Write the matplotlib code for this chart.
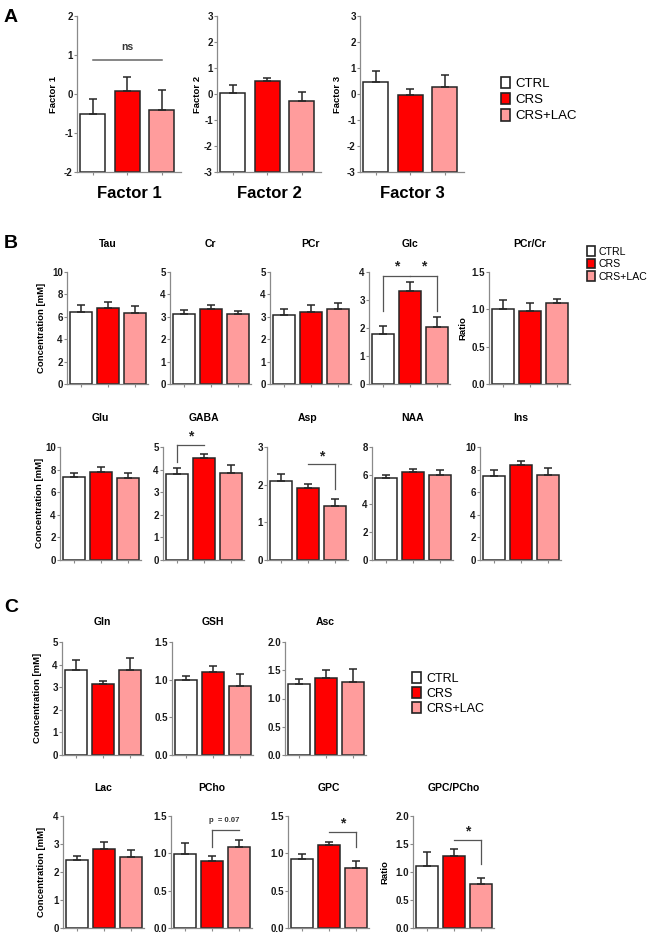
import numpy as np
import matplotlib.pyplot as plt
from matplotlib.patches import Patch

plt.rcParams['font.family'] = ['Liberation Sans', 'DejaVu Sans']

groups = ['CTRL', 'CRS', 'CRS+LAC']
colors = ['#ffffff', '#ff0000', '#ff9c9c']

# panel A - factor scores
factor_names = ['Factor 1', 'Factor 2', 'Factor 3']
factor_mean = [[-0.50, 0.08, -0.42], [0.05, 0.50, -0.27], [0.47, -0.03, 0.26]]
factor_err = [[0.37, 0.35, 0.53], [0.30, 0.13, 0.35], [0.40, 0.23, 0.49]]
factor_ylim = [(-2, 2), (-3, 3), (-3, 3)]

# panel B - metabolites
b_names = ['Tau', 'Cr', 'PCr', 'Glc', 'PCr/Cr', 'Glu', 'GABA', 'Asp', 'NAA', 'Ins']
b_mean = [[6.40, 6.80, 6.32], [3.13, 3.36, 3.13], [3.07, 3.22, 3.37],
          [1.80, 3.32, 2.05], [1.01, 0.98, 1.08], [7.35, 7.80, 7.30],
          [3.80, 4.50, 3.85], [2.09, 1.90, 1.44], [5.80, 6.20, 6.00],
          [7.47, 8.40, 7.56]]
b_err = [[0.62, 0.55, 0.62], [0.18, 0.17, 0.14], [0.29, 0.31, 0.25],
         [0.27, 0.33, 0.33], [0.11, 0.10, 0.06], [0.35, 0.45, 0.40],
         [0.26, 0.17, 0.35], [0.18, 0.13, 0.18], [0.25, 0.25, 0.35],
         [0.53, 0.32, 0.59]]
b_ymax = [10, 5, 5, 4, 1.5, 10, 5, 3, 8, 10]
b_ystep = [2, 1, 1, 1, 0.5, 2, 1, 1, 2, 2]

# panel C
c_names = ['Gln', 'GSH', 'Asc', 'Lac', 'PCho', 'GPC', 'GPC/PCho']
c_mean = [[3.78, 3.16, 3.78], [1.00, 1.10, 0.91], [1.26, 1.37, 1.29],
          [2.43, 2.81, 2.53], [0.99, 0.90, 1.08], [0.93, 1.11, 0.81],
          [1.11, 1.28, 0.79]]
c_err = [[0.44, 0.13, 0.52], [0.05, 0.08, 0.16], [0.09, 0.14, 0.23],
         [0.14, 0.25, 0.25], [0.15, 0.07, 0.10], [0.06, 0.04, 0.09],
         [0.24, 0.13, 0.11]]
c_ymax = [5, 1.5, 2, 4, 1.5, 1.5, 2]
c_ystep = [1, 0.5, 0.5, 1, 0.5, 0.5, 0.5]

W, H = 650, 933
fig = plt.figure(figsize=(6.5, 9.33), dpi=100)


def px_axes(l, t, r, b):
    return fig.add_axes([l / W, 1 - b / H, (r - l) / W, (b - t) / H])


def px_text(x, y, s, **kw):
    kw.setdefault('ha', 'center')
    kw.setdefault('va', 'center')
    fig.text(x / W, 1 - y / H, s, **kw)


def bar_panel(ax, mean, err, ymin, ymax, step, xlim, width, fmt):
    x = np.arange(3)
    mean = np.array(mean)
    ax.bar(x, mean - ymin, bottom=ymin, width=width, color=colors,
           edgecolor='#262626', linewidth=1.1, zorder=2)
    ax.errorbar(x, mean, yerr=[np.zeros(3), err], fmt='none', ecolor='#262626',
                elinewidth=1.1, capsize=3.2, capthick=1.1, zorder=3)
    ax.set_xlim(xlim)
    ax.set_ylim(ymin, ymax)
    ticks = np.arange(ymin, ymax + step / 2, step)
    ax.set_yticks(ticks)
    ax.set_yticklabels([fmt.format(t) for t in ticks])
    ax.set_xticks(x)
    ax.set_xticklabels([])
    for s in ['top', 'right']:
        ax.spines[s].set_visible(False)
    for s in ['left', 'bottom']:
        ax.spines[s].set_color('#8a8a8a')
        ax.spines[s].set_linewidth(0.9)
    ax.tick_params(axis='y', length=2, width=0.8, color='#8a8a8a', pad=1,
                   labelsize=7, labelcolor='#1a1a1a')
    ax.tick_params(axis='x', length=2, width=0.8, color='#8a8a8a')
    for lab in ax.get_yticklabels():
        lab.set_fontweight('bold')
    ax.patch.set_alpha(0)


def bracket(ax, x0, x1, y, leg0=None, leg1=None):
    kw = dict(color='#555555', lw=0.9, clip_on=False, zorder=4)
    ax.plot([x0, x1], [y, y], **kw)
    if leg0 is not None:
        ax.plot([x0, x0], [leg0, y], **kw)
    if leg1 is not None:
        ax.plot([x1, x1], [leg1, y], **kw)


def star(ax, x, y, s='*', size=10):
    ax.text(x, y, s, ha='center', va='center', fontsize=size,
            fontweight='bold', color='#222222', clip_on=False)


# ---------------- panel A
a_boxes = [(77, 16, 181, 172), (217, 16, 321, 172), (360, 16, 464, 172)]
a_ylab_x = [54, 198, 338]
a_axes = []
for i, box in enumerate(a_boxes):
    ax = px_axes(*box)
    lo, hi = factor_ylim[i]
    bar_panel(ax, factor_mean[i], factor_err[i], lo, hi, 1,
              (-0.45, 2.55), 0.72, '{:.0f}')
    a_axes.append(ax)
    px_text(a_ylab_x[i], 94, factor_names[i], rotation=90, fontsize=6.8,
            fontweight='bold')
    px_text((box[0] + box[2]) / 2, 193, factor_names[i], fontsize=12,
            fontweight='bold')

ax = a_axes[0]
ax.plot([0, 2], [0.87, 0.87], color='#666666', lw=1.1)
ax.text(1, 1.2, 'ns', ha='center', va='center', fontsize=7.5,
        fontweight='bold', color='#333333')

px_text(4, 18, 'A', ha='left', fontsize=14, fontweight='bold')
handles = [Patch(facecolor=c, edgecolor='#222222', linewidth=1.2) for c in colors]
fig.legend(handles, groups, loc='upper left',
           bbox_to_anchor=(494 / W, 1 - 70 / H), frameon=False, fontsize=9.5,
           handlelength=0.7, handleheight=1.0, handletextpad=0.4,
           labelspacing=0.2, borderpad=0)

# ---------------- panel B
b_boxes = [(67, 272, 148, 384), (170, 272, 251, 384), (270, 272, 351, 384),
           (369, 272, 450, 384), (489, 272, 570, 384),
           (60, 447, 141, 560), (163, 447, 244, 560), (267, 447, 348, 560),
           (372, 447, 453, 560), (480, 447, 561, 560)]
b_axes = []
for i, box in enumerate(b_boxes):
    ax = px_axes(*box)
    fmt = '{:.1f}' if b_ystep[i] < 1 else '{:.0f}'
    bar_panel(ax, b_mean[i], b_err[i], 0, b_ymax[i], b_ystep[i],
              (-0.53, 2.49), 0.82, fmt)
    b_axes.append(ax)
    ty = 244 if i < 5 else 418
    px_text((box[0] + box[2]) / 2, ty, b_names[i], fontsize=7.5,
            fontweight='bold')

px_text(42, 328, 'Concentration [mM]', rotation=90, fontsize=6.8, fontweight='bold')
px_text(40, 503, 'Concentration [mM]', rotation=90, fontsize=6.8, fontweight='bold')
px_text(463, 328, 'Ratio', rotation=90, fontsize=6.8, fontweight='bold')

# Glc
ax = b_axes[3]
bracket(ax, 0, 1, 3.85, leg0=2.6)
bracket(ax, 1, 2, 3.85, leg1=2.6)
star(ax, 0.5, 4.2)
star(ax, 1.5, 4.2)
# GABA
ax = b_axes[6]
bracket(ax, 0, 1, 5.07, leg0=4.33)
star(ax, 0.5, 5.45)
# Asp
ax = b_axes[7]
bracket(ax, 1, 2, 2.54, leg1=1.89)
star(ax, 1.5, 2.75)

px_text(4, 243, 'B', ha='left', fontsize=14, fontweight='bold')
fig.legend(handles, groups, loc='upper left',
           bbox_to_anchor=(582 / W, 1 - 241 / H), frameon=False, fontsize=7.6,
           handlelength=0.7, handleheight=1.0, handletextpad=0.35,
           labelspacing=0.2, borderpad=0)

# ---------------- panel C
c_boxes = [(62, 642, 143, 755), (172, 642, 253, 755), (285, 642, 366, 755),
           (63, 816, 144, 928), (171, 816, 252, 928), (288, 816, 369, 928),
           (413, 816, 494, 928)]
c_axes = []
for i, box in enumerate(c_boxes):
    ax = px_axes(*box)
    fmt = '{:.1f}' if c_ystep[i] < 1 else '{:.0f}'
    bar_panel(ax, c_mean[i], c_err[i], 0, c_ymax[i], c_ystep[i],
              (-0.53, 2.49), 0.82, fmt)
    c_axes.append(ax)
    ty = 622 if i < 3 else 788
    px_text((box[0] + box[2]) / 2, ty, c_names[i], fontsize=7.5,
            fontweight='bold')

px_text(38, 698, 'Concentration [mM]', rotation=90, fontsize=6.8, fontweight='bold')
px_text(42, 872, 'Concentration [mM]', rotation=90, fontsize=6.8, fontweight='bold')
px_text(385, 872, 'Ratio', rotation=90, fontsize=6.8, fontweight='bold')

# PCho
ax = c_axes[4]
bracket(ax, 1, 2, 1.31, leg0=1.09)
ax.text(1.45, 1.44, 'p  = 0.07', ha='center', va='center', fontsize=5.5,
        fontweight='bold', color='#333333')
# GPC
ax = c_axes[5]
bracket(ax, 1, 2, 1.29, leg1=1.08)
star(ax, 1.5, 1.4)
# GPC/PCho
ax = c_axes[6]
bracket(ax, 1, 2, 1.58, leg1=1.14)
star(ax, 1.5, 1.72)

px_text(4, 608, 'C', ha='left', fontsize=14, fontweight='bold')
fig.legend(handles, groups, loc='upper left',
           bbox_to_anchor=(406 / W, 1 - 666 / H), frameon=False, fontsize=9,
           handlelength=0.7, handleheight=1.0, handletextpad=0.4,
           labelspacing=0.15, borderpad=0)

fig.savefig('out.png', dpi=100)
